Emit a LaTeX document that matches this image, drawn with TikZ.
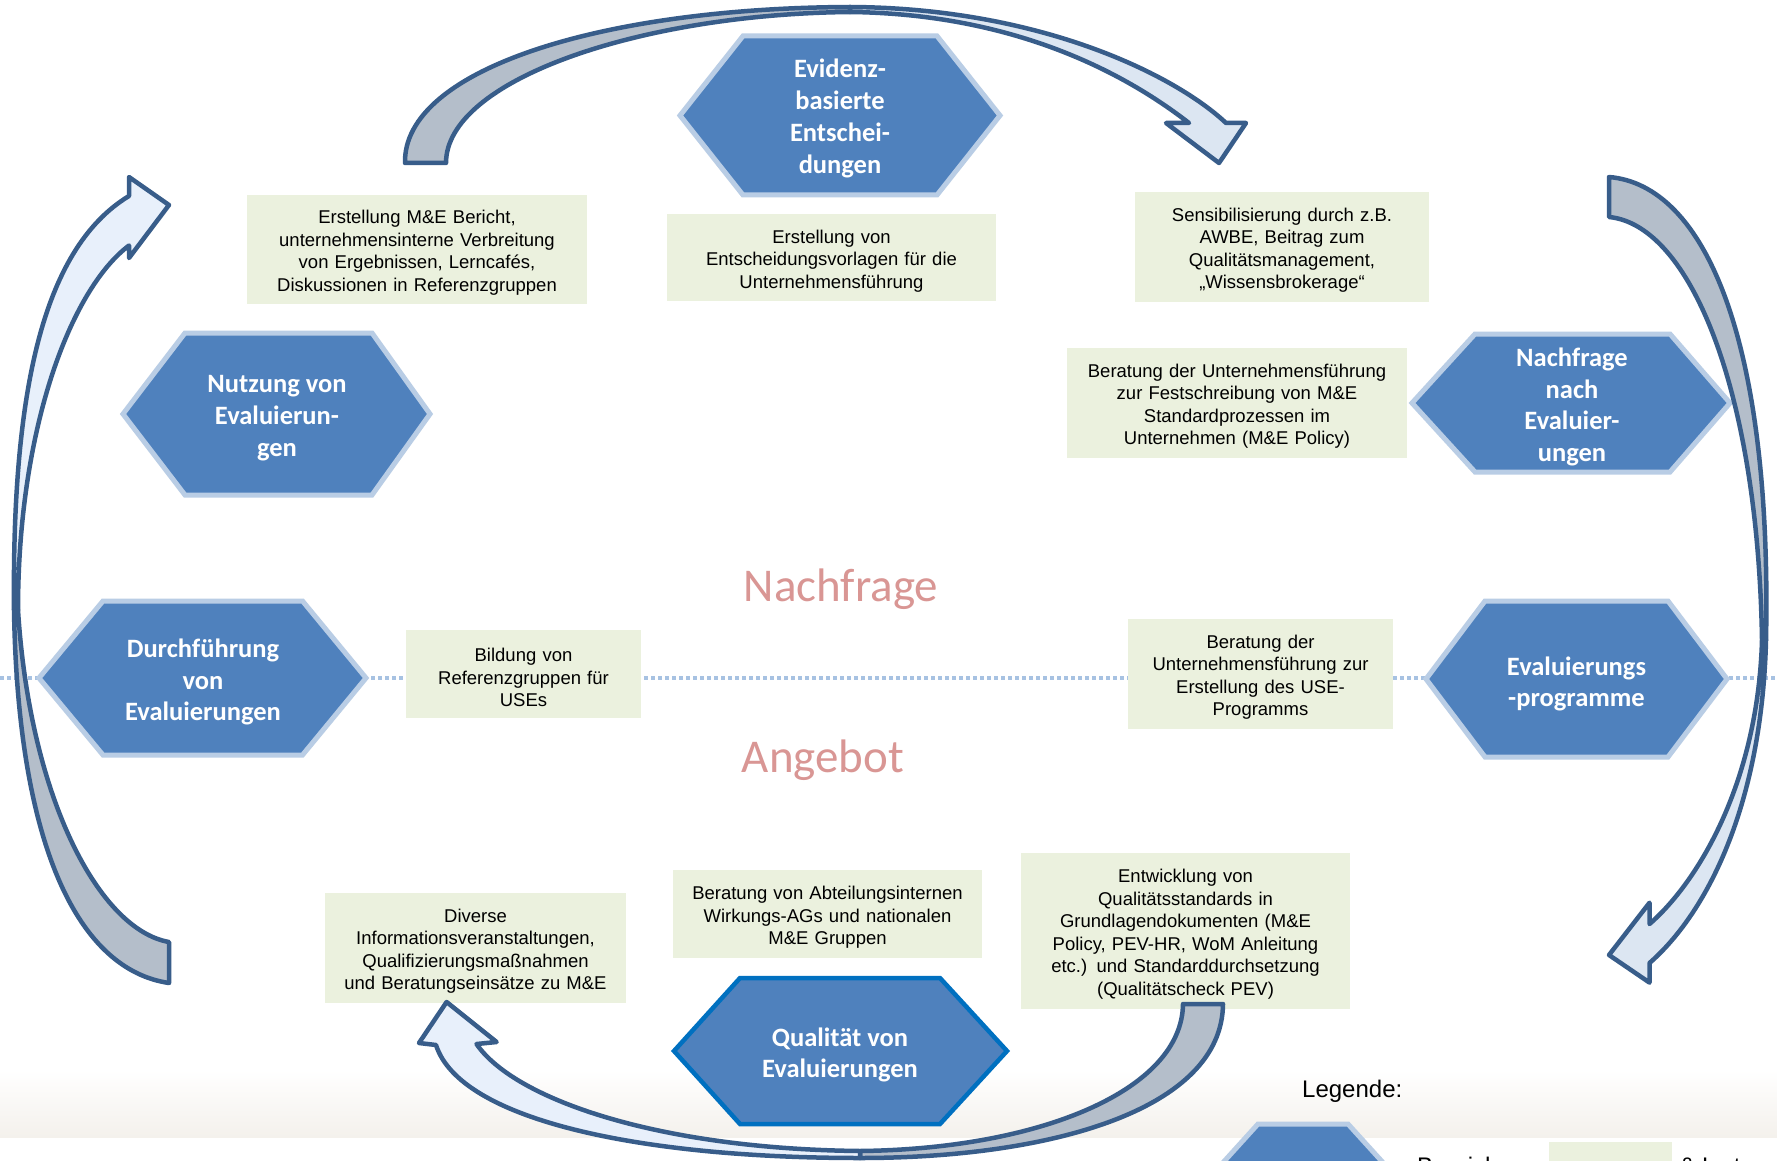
\documentclass[tikz,border=0pt]{standalone}
\usepackage{fontspec}
\setmainfont{Liberation Sans}
\newfontfamily\calibrifont{Carlito}
\definecolor{hexfill}{HTML}{4F81BD}
\definecolor{hexline}{HTML}{B9CDE5}
\definecolor{hexdark}{HTML}{0070C0}
\definecolor{boxfill}{HTML}{EBF1DE}
\definecolor{arrline}{HTML}{385D8A}
\definecolor{arrgray}{HTML}{B4BECA}
\definecolor{arrlight}{HTML}{DCE6F2}
\definecolor{arrpale}{HTML}{E8F0FB}
\definecolor{dotcol}{HTML}{A7C2E2}
\definecolor{pinktext}{HTML}{D99694}
\definecolor{bandcol}{HTML}{F4F1EC}
\begin{document}
\begin{tikzpicture}[x=1pt,y=-1pt,
  hexshape/.style={fill=hexfill, draw=hexline, line width=5pt, line join=miter},
  hexdarkshape/.style={fill=hexfill, draw=hexdark, line width=4.5pt, line join=miter},
  hextext/.style={text=white, font=\calibrifont\bfseries\fontsize{26.5}{31.8}\selectfont, align=center, inner sep=0pt, yshift=-3pt},
  gbox/.style n args={2}{fill=boxfill, text width=#1, minimum height=#2, inner xsep=0pt, inner ysep=0pt, align=center, font=\fontsize{18.5}{22.5}\selectfont, execute at begin node={\rule{0pt}{20.3pt}}},
  pinklabel/.style={text=pinktext, font=\calibrifont\fontsize{47}{56}\selectfont, inner sep=0pt},
  arrtail/.style={fill=arrgray, draw=arrline, line width=4.5pt, line join=round},
  arrfront/.style={fill=#1, draw=arrline, line width=4.5pt, line join=round},
  dotline/.style={draw=dotcol, line width=3.5pt, dash pattern=on 3.5pt off 3.5pt},
  legendtext/.style={font=\fontsize{24}{28}\selectfont, inner sep=0pt}
]
\useasboundingbox (0,0) rectangle (1777,1161);
\clip (0,0) rectangle (1777,1161);
\fill[white] (0,0) rectangle (1777,1161);
\shade[top color=white, bottom color=bandcol] (0,1070) rectangle (1777,1137);

% dotted separation line
\coordinate (dl) at (0,678);
\coordinate (dr) at (1777,678);
\draw[dotline] (dl) -- (dr);

% pink labels
\node[pinklabel, anchor=base] (nachfrage) at (841,601) {Nachfrage};
\node[pinklabel, anchor=base] (angebot) at (823,772) {Angebot};

% hexagons
\path[hexshape] (680,115.5) -- (743,36) -- (937,36) -- (1000,115.5) -- (937,195) -- (743,195) -- cycle;
\node[hextext] (evidenz) at (840,115.5) {Evidenz-\\basierte\\Entschei-\\dungen};

\path[hexshape] (123,414) -- (185,333) -- (372,333) -- (430,414) -- (372,495) -- (185,495) -- cycle;
\node[hextext] (nutzung) at (277,415) {Nutzung von\\Evaluierun-\\gen};

\path[hexshape] (39,678) -- (103,601) -- (302.5,601) -- (366,678) -- (302.5,755) -- (103,755) -- cycle;
\node[hextext] (durch) at (203,679) {Durchführung\\von\\Evaluierungen};

\path[hexshape] (1412,403) -- (1475,334) -- (1670,334) -- (1730,403) -- (1670,472) -- (1475,472) -- cycle;
\node[hextext] (nachnach) at (1572,404) {Nachfrage\\nach\\Evaluier-\\ungen};

\path[hexshape] (1426,679) -- (1485,601) -- (1668,601) -- (1727,679) -- (1668,757) -- (1485,757) -- cycle;
\node[hextext] (programme) at (1576.5,681) {Evaluierungs\\-programme};

\path[hexdarkshape] (674,1051) -- (740,978) -- (940,978) -- (1007,1051) -- (940,1124) -- (740,1124) -- cycle;
\node[hextext] (qualitaet) at (840,1052) {Qualität von\\Evaluierungen};

% green boxes
\node[gbox={340pt}{109pt}] (boxA) at (417,249.5) {Erstellung M\&E Bericht,\\unternehmensinterne Verbreitung\\von Ergebnissen, Lerncafés,\\Diskussionen in Referenzgruppen};
\node[gbox={329pt}{87pt}] (boxB) at (831.5,257.5) {Erstellung von\\Entscheidungsvorlagen für die\\Unternehmensführung};
\node[gbox={294pt}{110pt}] (boxC) at (1282,247) {Sensibilisierung durch z.B.\\AWBE, Beitrag zum\\Qualitätsmanagement,\\„Wissensbrokerage“};
\node[gbox={340pt}{110pt}] (boxD) at (1237,403) {Beratung der Unternehmensführung\\zur Festschreibung von M\&E\\Standardprozessen im\\Unternehmen (M\&E Policy)};
\node[gbox={235pt}{88pt}] (boxE) at (523.5,674) {Bildung von\\Referenzgruppen für\\USEs};
\node[gbox={265pt}{110pt}] (boxF) at (1260.5,674) {Beratung der\\Unternehmensführung zur\\Erstellung des USE-\\Programms};
\node[gbox={301pt}{110pt}] (boxG) at (475.5,948) {Diverse\\Informationsveranstaltungen,\\Qualifizierungsmaßnahmen\\und Beratungseinsätze zu M\&E};
\node[gbox={309pt}{88pt}] (boxH) at (827.5,914) {Beratung von Abteilungsinternen\\Wirkungs-AGs und nationalen\\M\&E Gruppen};
\node[gbox={329pt}{156pt}] (boxI) at (1185.5,931) {Entwicklung von\\Qualitätsstandards in\\Grundlagendokumenten (M\&E\\Policy, PEV-HR, WoM Anleitung\\etc.) und Standarddurchsetzung\\(Qualitätscheck PEV)};

% top arrow
\path[arrtail] (405,163) .. controls (403,70) and (600,8) .. (850,7) -- (850,12) .. controls (640,14) and (446,80) .. (446,163) -- cycle;
\path[arrfront=arrlight] (850,7) .. controls (1040,8) and (1175,75) .. (1226,123) -- (1246,123) -- (1219,163) -- (1166,123) -- (1189,123) .. controls (1140,85) and (1030,14) .. (850,12) -- cycle;

% right arrow
\path[arrtail] (1609,177) .. controls (1705,185) and (1772,340) .. (1766,640) -- (1762,640) .. controls (1758,390) and (1690,225) .. (1609,217) -- cycle;
\path[arrfront=arrlight] (1766,640) .. controls (1762,800) and (1710,910) .. (1649.5,963) -- (1649.5,982.6) -- (1609,955) -- (1649.5,902.7) -- (1649.5,924) .. controls (1700,880) and (1758,780) .. (1762,640) -- cycle;

% bottom arrow
\path[arrtail] (1223,1004) .. controls (1222,1110) and (1050,1158) .. (860,1158) -- (860,1151) .. controls (1040,1149) and (1182,1090) .. (1183,1004) -- cycle;
\path[arrfront=arrpale] (860,1158) .. controls (640,1158) and (460,1120) .. (436,1045) -- (419,1043) -- (446.6,1002) -- (496.6,1042) -- (476.5,1044) .. controls (515,1100) and (660,1149) .. (860,1151) -- cycle;

% left arrow
\path[arrtail] (169,983) .. controls (80,970) and (18,850) .. (14,610) -- (18,610) .. controls (30,800) and (100,930) .. (169,942) -- cycle;
\path[arrfront=arrpale] (14,610) .. controls (12,400) and (40,250) .. (129,196) -- (129,177) -- (169,205) -- (129,258) -- (129,245.5) .. controls (70,290) and (18,430) .. (18,610) -- cycle;

% legend
\node[legendtext, anchor=base west] (legende) at (1302,1097) {Legende:};
\path[hexshape] (1258,1124) -- (1348,1124) -- (1416,1199) -- (1348,1274) -- (1258,1274) -- (1190,1199) -- cycle;
\node[legendtext, anchor=base west] (legtxtA) at (1417,1174) {Bereiche};
\node[legendtext, anchor=base west] (legtxtB) at (1555,1174) {Leistungen \& Instrumente};
\node[fill=boxfill, minimum width=123pt, minimum height=40pt, anchor=north west, inner sep=0pt] (legbox) at (1549,1142) {};
\end{tikzpicture}
\end{document}
